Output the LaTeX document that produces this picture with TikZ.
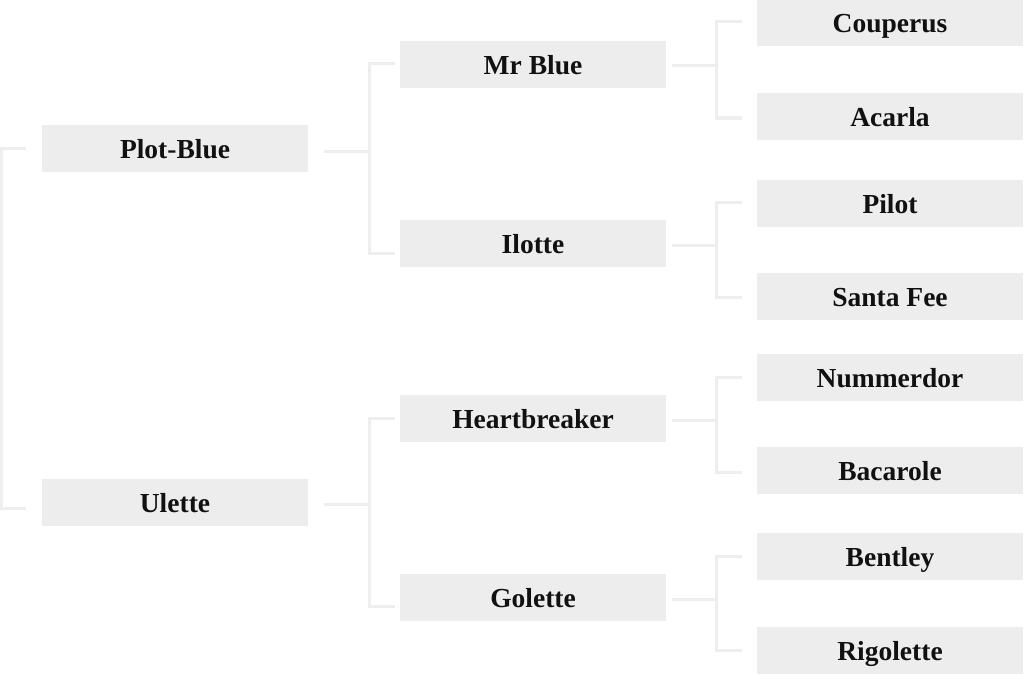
\documentclass[tikz,border=0pt]{standalone}
\usepackage{fontspec}
\setmainfont{Liberation Serif}
\definecolor{boxgray}{HTML}{EDEDED}
\definecolor{linegray}{HTML}{EEEEEE}
\definecolor{ink}{HTML}{111111}
\begin{document}
\begin{tikzpicture}[x=1pt,y=-1pt,
  person/.style={fill=boxgray, minimum width=266pt, minimum height=47pt, inner sep=0pt,
    text height=20pt, text depth=0pt, text=ink, font=\bfseries\fontsize{27.5}{30}\selectfont},
  conn/.style={draw=linegray, line width=3pt}]
\useasboundingbox (0,0) rectangle (1024,674);
% generation 1
\node[person] (PB) at (175,148.5) {Plot-Blue};
\node[person] (UL) at (175,502.5) {Ulette};
% generation 2
\node[person] (MB) at (533,65) {Mr Blue};
\node[person] (IL) at (533,243.5) {Ilotte};
\node[person] (HB) at (533,418.5) {Heartbreaker};
\node[person] (GO) at (533,597.5) {Golette};
% generation 3
\node[person] (CO) at (890,23) {Couperus};
\node[person] (AC) at (890,116.5) {Acarla};
\node[person] (PI) at (890,203) {Pilot};
\node[person] (SF) at (890,296) {Santa Fee};
\node[person] (NU) at (890,377.5) {Nummerdor};
\node[person] (BA) at (890,470.5) {Bacarole};
\node[person] (BE) at (890,556.5) {Bentley};
\node[person] (RI) at (890,650.5) {Rigolette};
% left bracket
\draw[conn] ([xshift=-16pt]PB.west) -- ++(-24,0) |- ([xshift=-16pt,yshift=-6pt]UL.west);
% gen1 -> gen2
\draw[conn] ([xshift=16pt,yshift=-2.5pt]PB.east) -- ++(46,0);
\draw[conn] ([xshift=-5pt,yshift=1pt]MB.west) -- ++(-25,0) |- ([xshift=-5pt,yshift=-9.5pt]IL.west);
\draw[conn] ([xshift=16pt,yshift=-2pt]UL.east) -- ++(46,0);
\draw[conn] ([xshift=-5pt]HB.west) -- ++(-25,0) |- ([xshift=-5pt,yshift=-9pt]GO.west);
% gen2 -> gen3
\draw[conn] ([xshift=6pt,yshift=-1pt]MB.east) -- ++(45,0);
\draw[conn] ([xshift=-15pt,yshift=1pt]CO.west) -- ++(-25,0) |- ([xshift=-15pt,yshift=-1.5pt]AC.west);
\draw[conn] ([xshift=6pt,yshift=-2pt]IL.east) -- ++(45,0);
\draw[conn] ([xshift=-15pt,yshift=1pt]PI.west) -- ++(-25,0) |- ([xshift=-15pt,yshift=-1pt]SF.west);
\draw[conn] ([xshift=6pt,yshift=-1.5pt]HB.east) -- ++(45,0);
\draw[conn] ([xshift=-15pt,yshift=0.5pt]NU.west) -- ++(-25,0) |- ([xshift=-15pt,yshift=-1.5pt]BA.west);
\draw[conn] ([xshift=6pt,yshift=-1.5pt]GO.east) -- ++(45,0);
\draw[conn] ([xshift=-15pt,yshift=0.5pt]BE.west) -- ++(-25,0) |- ([xshift=-15pt,yshift=0.5pt]RI.west);
\end{tikzpicture}
\end{document}
